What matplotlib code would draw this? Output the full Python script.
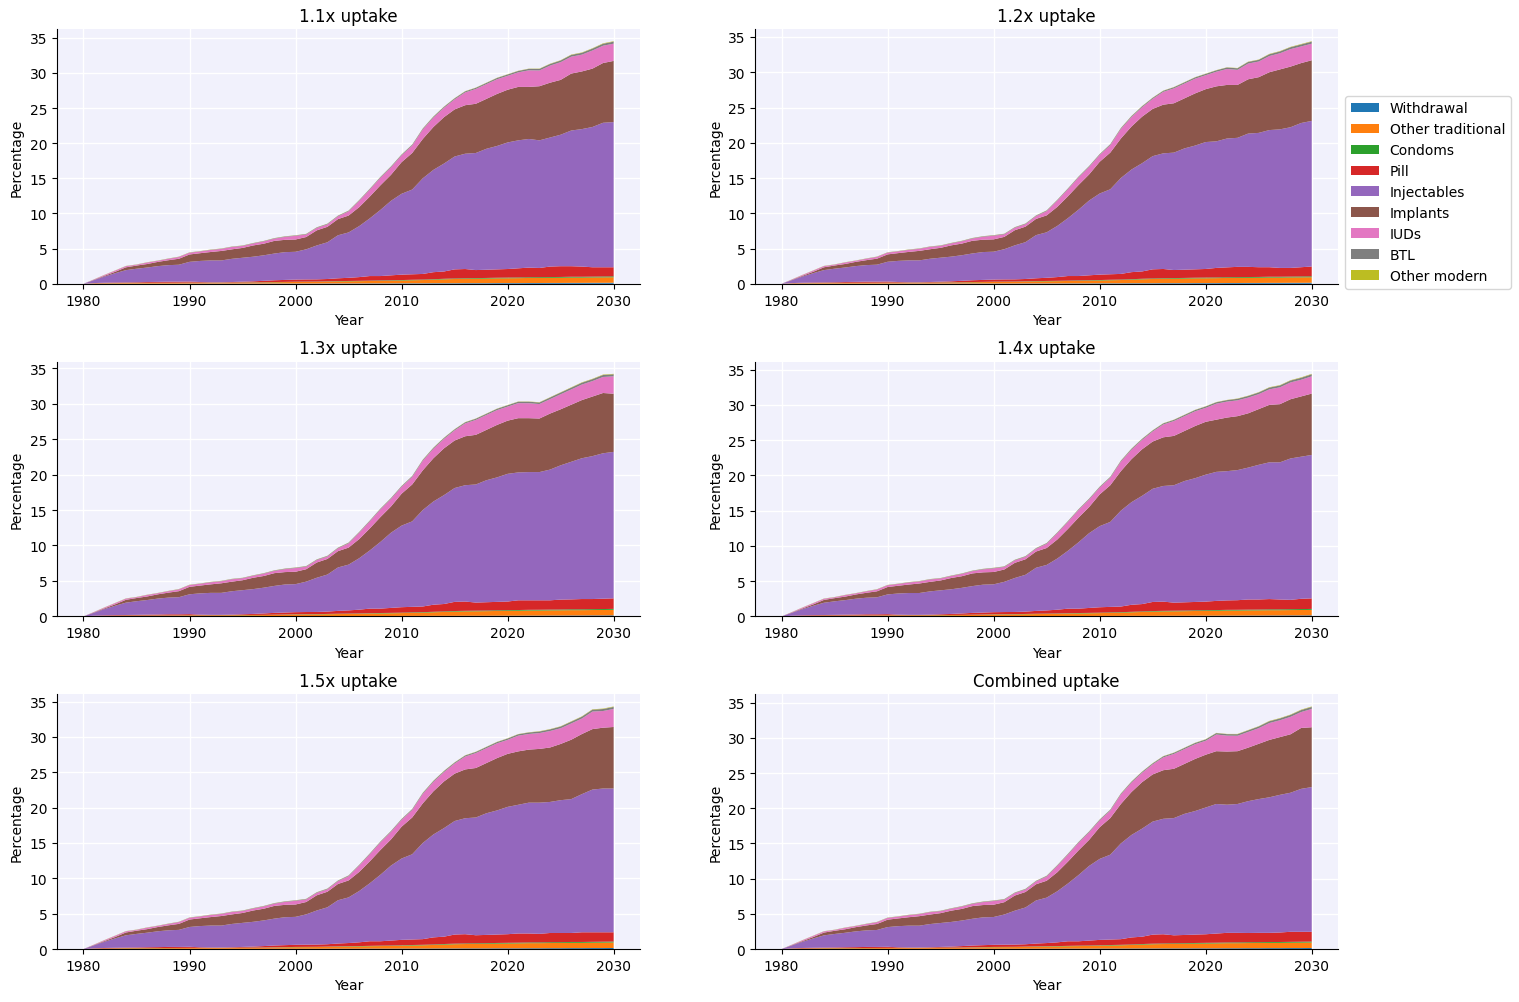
import numpy as np
import matplotlib
matplotlib.use("Agg")
import matplotlib.pyplot as plt

years = np.arange(1980, 2031)
methods = ["Withdrawal", "Other traditional", "Condoms", "Pill", "Injectables",
           "Implants", "IUDs", "BTL", "Other modern"]
titles = ["1.1x uptake", "1.2x uptake", "1.3x uptake",
          "1.4x uptake", "1.5x uptake", "Combined uptake"]

# --- history 1980-2020 (same in every scenario) ---
withdrawal_hist = [0.00, 0.01, 0.01, 0.02, 0.02, 0.02, 0.02, 0.02, 0.02, 0.02,
                   0.03, 0.03, 0.03, 0.03, 0.03, 0.03, 0.03, 0.03, 0.04, 0.04,
                   0.04, 0.04, 0.04, 0.05, 0.05, 0.05, 0.05, 0.06, 0.06, 0.06,
                   0.07, 0.07, 0.07, 0.08, 0.08, 0.08, 0.09, 0.09, 0.09, 0.10,
                   0.10]
other_trad_hist = [0.00, 0.05, 0.07, 0.08, 0.10, 0.10, 0.10, 0.11, 0.11, 0.12,
                   0.12, 0.12, 0.12, 0.13, 0.13, 0.14, 0.15, 0.16, 0.18, 0.20,
                   0.22, 0.23, 0.24, 0.26, 0.28, 0.30, 0.32, 0.34, 0.36, 0.38,
                   0.40, 0.43, 0.46, 0.50, 0.55, 0.60, 0.62, 0.63, 0.65, 0.67,
                   0.68]
condoms_hist = [0.00, 0.01, 0.01, 0.01, 0.02, 0.02, 0.02, 0.02, 0.02, 0.02,
                0.02, 0.02, 0.02, 0.02, 0.02, 0.03, 0.03, 0.03, 0.03, 0.03,
                0.04, 0.04, 0.04, 0.04, 0.05, 0.05, 0.05, 0.05, 0.06, 0.06,
                0.06, 0.07, 0.07, 0.07, 0.08, 0.08, 0.08, 0.09, 0.09, 0.09,
                0.10]
pill_hist = [0.00, 0.03, 0.06, 0.07, 0.06, 0.08, 0.11, 0.12, 0.15, 0.14,
             0.15, 0.08, 0.05, 0.04, 0.07, 0.10, 0.14, 0.20, 0.25, 0.28,
             0.30, 0.31, 0.31, 0.33, 0.40, 0.45, 0.53, 0.65, 0.62, 0.70,
             0.77, 0.78, 0.80, 1.00, 1.04, 1.29, 1.31, 1.14, 1.17, 1.19,
             1.22]
injectables_hist = [0.00, 0.42, 0.89, 1.33, 1.74, 1.92, 2.06, 2.24, 2.35, 2.41,
                    2.80, 3.00, 3.10, 3.10, 3.30, 3.40, 3.50, 3.63, 3.80, 3.95,
                    3.95, 4.28, 4.82, 5.22, 6.12, 6.45, 7.25, 8.20, 9.40, 10.60,
                    11.50, 12.05, 13.60, 14.55, 15.35, 16.05, 16.40, 16.65, 17.20, 17.55,
                    18.00]
implants_hist = [0.00, 0.05, 0.10, 0.20, 0.40, 0.45, 0.50, 0.60, 0.70, 0.85,
                 1.05, 1.10, 1.20, 1.35, 1.35, 1.40, 1.60, 1.65, 1.80, 1.75,
                 1.75, 1.75, 2.15, 2.20, 2.30, 2.40, 2.70, 3.10, 3.50, 3.70,
                 4.50, 5.20, 5.60, 6.10, 6.60, 6.70, 6.90, 7.00, 7.10, 7.40,
                 7.50]
iuds_hist = [0.00, 0.05, 0.12, 0.17, 0.16, 0.12, 0.21, 0.16, 0.20, 0.25,
             0.25, 0.25, 0.29, 0.29, 0.34, 0.28, 0.28, 0.33, 0.32, 0.42,
             0.52, 0.36, 0.35, 0.35, 0.40, 0.60, 0.90, 1.00, 1.08, 1.07,
             0.97, 1.06, 1.35, 1.34, 1.33, 1.43, 1.82, 2.11, 2.10, 2.09,
             1.98]
btl_hist = [0.00, 0.01, 0.01, 0.01, 0.02, 0.02, 0.02, 0.02, 0.03, 0.03,
            0.03, 0.03, 0.04, 0.04, 0.04, 0.05, 0.05, 0.05, 0.06, 0.06,
            0.06, 0.07, 0.07, 0.08, 0.08, 0.09, 0.09, 0.10, 0.10, 0.11,
            0.11, 0.12, 0.12, 0.13, 0.14, 0.14, 0.15, 0.16, 0.17, 0.18,
            0.19]
other_modern_hist = [0.00, 0.01, 0.02, 0.02, 0.02, 0.02, 0.02, 0.02, 0.02, 0.02,
                     0.02, 0.02, 0.02, 0.02, 0.02, 0.02, 0.02, 0.02, 0.02, 0.02,
                     0.02, 0.02, 0.02, 0.02, 0.02, 0.02, 0.02, 0.02, 0.02, 0.02,
                     0.02, 0.02, 0.03, 0.03, 0.03, 0.03, 0.03, 0.03, 0.03, 0.03,
                     0.03]

# --- projections 2021-2030, small methods (shared) ---
withdrawal_proj = [0.10, 0.11, 0.11, 0.12, 0.12, 0.13, 0.13, 0.14, 0.14, 0.15]
other_trad_proj = [0.70, 0.72, 0.72, 0.73, 0.74, 0.75, 0.75, 0.76, 0.77, 0.78]
condoms_proj = [0.10, 0.10, 0.11, 0.11, 0.11, 0.12, 0.12, 0.12, 0.13, 0.13]
btl_proj = [0.20, 0.21, 0.22, 0.23, 0.24, 0.25, 0.26, 0.27, 0.28, 0.29]
other_modern_proj = [0.03, 0.03, 0.04, 0.04, 0.04, 0.05, 0.05, 0.05, 0.06, 0.06]

# --- projections 2021-2030 per scenario ---
pill_11 = [1.30, 1.37, 1.31, 1.49, 1.53, 1.50, 1.45, 1.33, 1.31, 1.29]
inj_11 = [18.20, 18.30, 18.15, 18.35, 18.70, 19.30, 19.55, 19.95, 20.55, 20.65]
impl_11 = [7.60, 7.40, 7.70, 7.80, 7.80, 8.10, 8.20, 8.30, 8.50, 8.70]
iud_11 = [2.07, 2.36, 2.24, 2.43, 2.52, 2.40, 2.39, 2.58, 2.46, 2.45]

pill_12 = [1.35, 1.40, 1.46, 1.44, 1.38, 1.35, 1.25, 1.23, 1.31, 1.39]
inj_12 = [17.95, 18.27, 18.30, 18.90, 19.05, 19.45, 19.65, 19.95, 20.45, 20.65]
impl_12 = [7.80, 7.60, 7.50, 7.70, 7.90, 8.20, 8.50, 8.60, 8.50, 8.60]
iud_12 = [2.07, 2.26, 2.14, 2.23, 2.22, 2.30, 2.29, 2.48, 2.36, 2.35]

pill_13 = [1.37, 1.34, 1.33, 1.31, 1.40, 1.40, 1.45, 1.43, 1.46, 1.49]
inj_13 = [18.03, 18.08, 18.08, 18.43, 18.93, 19.40, 19.85, 20.15, 20.50, 20.65]
impl_13 = [7.65, 7.60, 7.55, 7.90, 7.90, 8.05, 8.20, 8.40, 8.50, 8.20]
iud_13 = [2.12, 2.11, 2.04, 2.03, 2.12, 2.15, 2.19, 2.18, 2.26, 2.45]

pill_14 = [1.30, 1.34, 1.36, 1.44, 1.43, 1.46, 1.40, 1.33, 1.46, 1.50]
inj_14 = [18.30, 18.33, 18.45, 18.70, 19.10, 19.39, 19.45, 20.05, 20.15, 20.34]
impl_14 = [7.40, 7.60, 7.65, 7.70, 7.90, 8.15, 8.25, 8.40, 8.55, 8.70]
iud_14 = [2.27, 2.26, 2.24, 2.23, 2.12, 2.20, 2.39, 2.38, 2.36, 2.45]

pill_15 = [1.30, 1.27, 1.21, 1.31, 1.30, 1.27, 1.37, 1.35, 1.33, 1.31]
inj_15 = [18.20, 18.50, 18.55, 18.53, 18.78, 18.93, 19.53, 20.18, 20.33, 20.33]
impl_15 = [7.55, 7.50, 7.60, 7.70, 7.95, 8.40, 8.50, 8.55, 8.60, 8.70]
iud_15 = [2.22, 2.21, 2.24, 2.33, 2.22, 2.30, 2.19, 2.48, 2.36, 2.55]

pill_comb = [1.30, 1.37, 1.36, 1.32, 1.33, 1.30, 1.35, 1.43, 1.41, 1.39]
inj_comb = [18.40, 18.20, 18.30, 18.72, 19.00, 19.25, 19.55, 19.75, 20.30, 20.55]
impl_comb = [7.50, 7.55, 7.50, 7.60, 7.85, 8.15, 8.20, 8.30, 8.65, 8.50]
iud_comb = [2.37, 2.26, 2.19, 2.23, 2.22, 2.40, 2.39, 2.48, 2.26, 2.60]

scenario_proj = {
    "1.1x uptake": (pill_11, inj_11, impl_11, iud_11),
    "1.2x uptake": (pill_12, inj_12, impl_12, iud_12),
    "1.3x uptake": (pill_13, inj_13, impl_13, iud_13),
    "1.4x uptake": (pill_14, inj_14, impl_14, iud_14),
    "1.5x uptake": (pill_15, inj_15, impl_15, iud_15),
    "Combined uptake": (pill_comb, inj_comb, impl_comb, iud_comb),
}

BG = "#f1f1fc"

fig, axes = plt.subplots(3, 2, figsize=(15.19, 10.03), dpi=100)
fig.subplots_adjust(left=0.0375, right=0.881, bottom=0.0528, top=0.970,
                    wspace=0.197, hspace=0.306)

for ax, title in zip(axes.flat, titles):
    pill_p, inj_p, impl_p, iud_p = scenario_proj[title]
    series = [
        withdrawal_hist + withdrawal_proj,
        other_trad_hist + other_trad_proj,
        condoms_hist + condoms_proj,
        pill_hist + pill_p,
        injectables_hist + inj_p,
        implants_hist + impl_p,
        iuds_hist + iud_p,
        btl_hist + btl_proj,
        other_modern_hist + other_modern_proj,
    ]
    ax.stackplot(years, series, labels=methods)
    ax.set_facecolor(BG)
    ax.set_axisbelow(True)
    ax.grid(color="white", linewidth=1)
    ax.spines["top"].set_visible(False)
    ax.spines["right"].set_visible(False)
    ax.set_title(title)
    ax.set_xlabel("Year")
    ax.set_ylabel("Percentage")

axes[0, 1].legend(loc="upper left", bbox_to_anchor=(1.0, 0.765))

fig.savefig("out.png", dpi=100)
